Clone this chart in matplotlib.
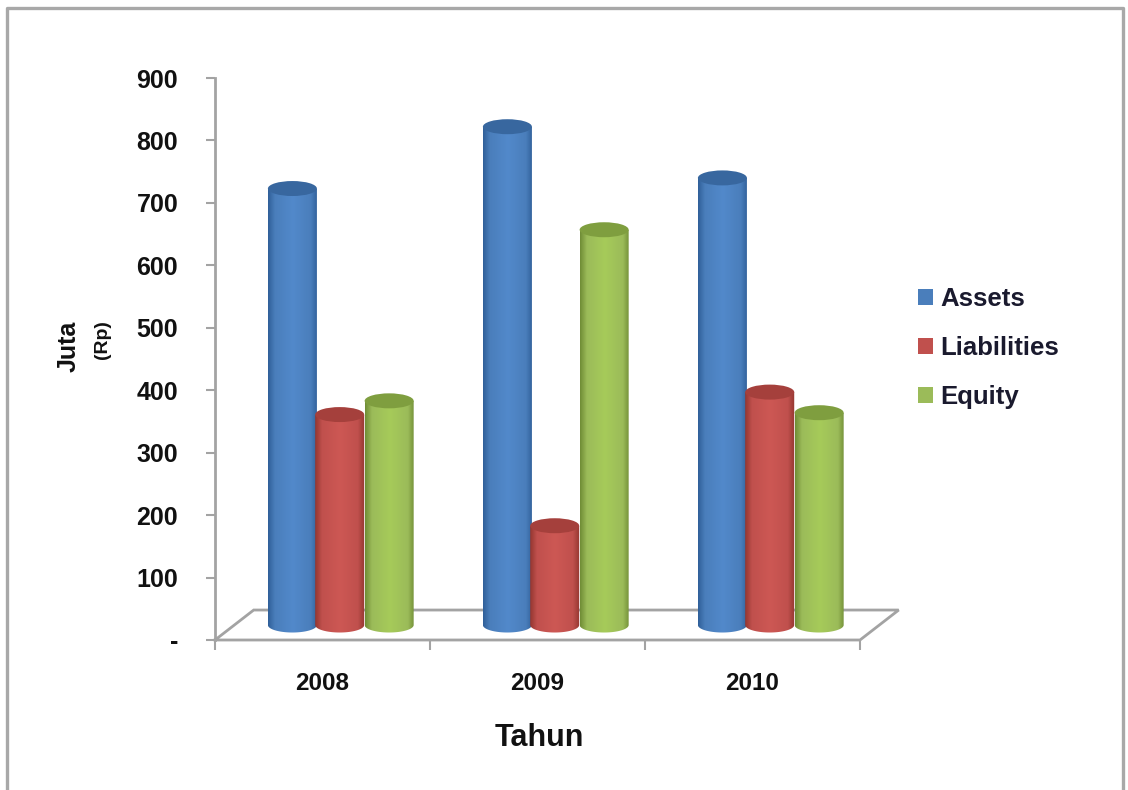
import numpy as np
import matplotlib
matplotlib.use('Agg')
import matplotlib.pyplot as plt
from matplotlib.colors import LinearSegmentedColormap
from matplotlib.patches import Ellipse, Patch, PathPatch
from matplotlib.path import Path

plt.rcParams['font.family'] = ['Liberation Sans', 'DejaVu Sans']
plt.rcParams['font.weight'] = 'bold'

years = ['2008', '2009', '2010']
series = ['Assets', 'Liabilities', 'Equity']
assets = [699, 798, 716]
liabilities = [337, 159, 373]
equity = [359, 633, 340]
y_ticks = [0, 100, 200, 300, 400, 500, 600, 700, 800, 900]
y_labels = ['-', '100', '200', '300', '400', '500', '600', '700', '800', '900']

# edge, mid, highlight, lid shades for each cylinder
shades = {
    'Assets': ['#2f5f98', '#4a7ebb', '#5289cb', '#38679f'],
    'Liabilities': ['#93362f', '#c0504d', '#cd5854', '#a5403c'],
    'Equity': ['#6f8c35', '#9bbb59', '#a6cb5a', '#7f9e3f'],
}
legend_cols = {'Assets': '#4a7ebb', 'Liabilities': '#c0504d', 'Equity': '#9bbb59'}

W, H = 1128, 790
AX_L, AX_R, AX_T, AX_B = 215, 860, 78, 640
GREY = '#a3a3a3'

fig = plt.figure(figsize=(W / 100, H / 100), dpi=100)
ax = fig.add_axes([AX_L / W, 1 - AX_B / H, (AX_R - AX_L) / W, (AX_B - AX_T) / H])
ax.set_xlim(0, 3)
ax.set_ylim(0, 900)

# floor of the 3d box
depth_x, depth_y = 0.18, 48
ax.plot([0, depth_x, 3 + depth_x, 3, 0], [0, depth_y, depth_y, 0, 0],
        color=GREY, lw=2, clip_on=False, zorder=1, solid_joinstyle='miter')

bar_w = 0.228
base = 24
ry = 12


def cylinder(x, val, name, z):
    edge, mid, hi, lid = shades[name]
    cmap = LinearSegmentedColormap.from_list(
        name, [(0, edge), (0.14, mid), (0.5, hi), (0.86, mid), (1, edge)])
    grad = np.linspace(0, 1, 256).reshape(1, -1)
    top_y = base + val
    left, right = x - bar_w / 2, x + bar_w / 2
    t = np.linspace(np.pi, 2 * np.pi, 60)
    xs = x + bar_w / 2 * np.cos(t)
    ys = base + ry * np.sin(t)
    verts = [(left, top_y)] + list(zip(xs, ys)) + [(right, top_y), (left, top_y)]
    clip = PathPatch(Path(verts), transform=ax.transData, fc='none', ec='none')
    ax.add_patch(clip)
    im = ax.imshow(grad, cmap=cmap, extent=[left, right, base - ry, top_y], aspect='auto', zorder=z)
    im.set_clip_path(clip)
    top = Ellipse((x, top_y), bar_w, ry * 2, fc=lid, ec='none', zorder=z + 0.1, clip_on=False)
    ax.add_patch(top)


centers = [0.36, 0.58, 0.81]
for i, year in enumerate(years):
    for j, (name, vals) in enumerate(zip(series, [assets, liabilities, equity])):
        cylinder(i + centers[j], vals[i], name, 3 + j)

ax.set_xlim(0, 3)
ax.set_ylim(0, 900)

for s in ['top', 'right', 'bottom']:
    ax.spines[s].set_visible(False)
ax.spines['left'].set_color(GREY)
ax.spines['left'].set_linewidth(2)
ax.set_yticks(y_ticks)
ax.set_yticklabels(y_labels)
ax.set_xticks([0, 1, 2, 3])
ax.set_xticklabels([])
ax.tick_params(axis='y', length=6.5, width=1.5, color=GREY, labelsize=18, pad=20, labelcolor='#111111')
ax.tick_params(axis='x', length=7, width=1.5, color=GREY)
ax.patch.set_alpha(0)

for i, year in enumerate(years):
    ax.text(i + 0.5, -69, year, ha='center', va='center', fontsize=17.5, color='#111111')

fig.text(539 / W, 1 - 738 / H, 'Tahun', ha='center', va='center', fontsize=22, color='#111111')
fig.text(69 / W, 1 - 346 / H, 'Juta', rotation=90, ha='center', va='center', fontsize=18, color='#111111')
fig.text(102 / W, 1 - 340 / H, '(Rp)', rotation=90, ha='center', va='center', fontsize=14, color='#111111')

handles = [Patch(fc=legend_cols[n], ec='none', label=n) for n in series]
fig.legend(handles=handles, loc='center left', bbox_to_anchor=(895 / W, 1 - 348 / H), frameon=False,
           fontsize=18.5, handlelength=0.58, handleheight=0.58, handletextpad=0.28,
           labelspacing=0.97, labelcolor='#1a1a2e')

# outer frame, open along the bottom edge
fig.add_artist(plt.Line2D([7 / W, 7 / W, 1123 / W, 1123 / W], [0, 1 - 8 / H, 1 - 8 / H, 0],
                          color='#a8a8a8', lw=2.4, transform=fig.transFigure))

fig.savefig('out.png', dpi=100)
